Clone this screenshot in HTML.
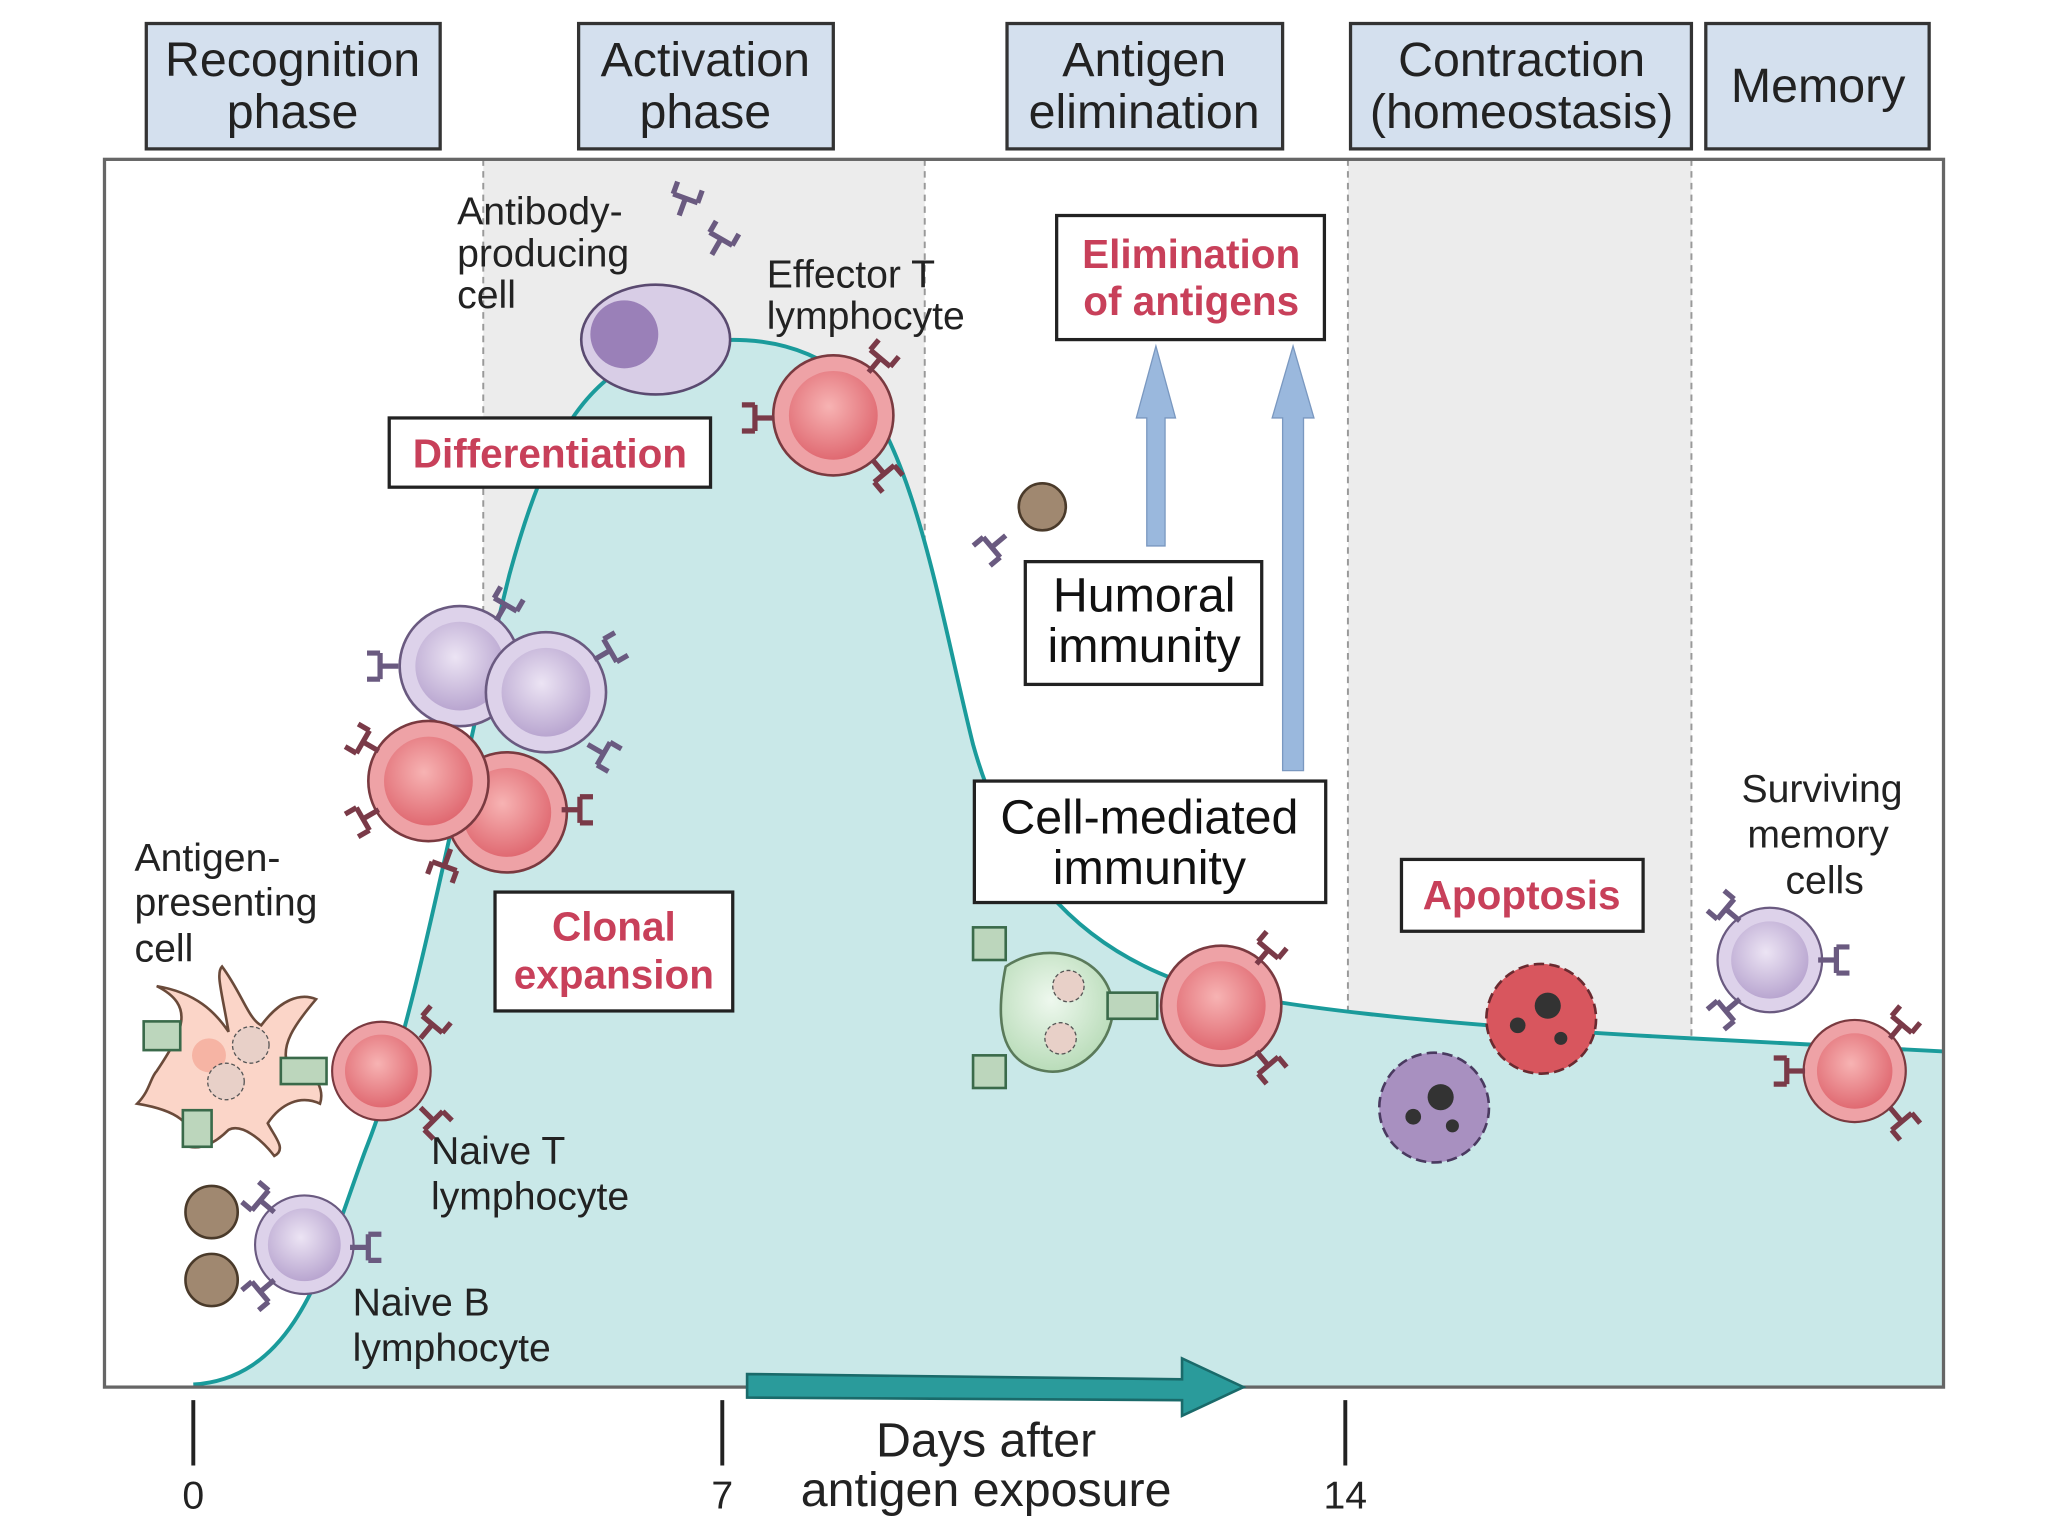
<!DOCTYPE html>
<html><head><meta charset="utf-8"><style>
html,body{margin:0;padding:0;background:#fff;}
svg{display:block;}
text{font-family:"Liberation Sans",Arial,sans-serif;}
</style></head><body>
<svg width="2048" height="1536" viewBox="0 0 1568 1176" xmlns="http://www.w3.org/2000/svg">
<defs>
<radialGradient id="rg" cx="45%" cy="40%" r="60%"><stop offset="0" stop-color="#f7b3b3"/><stop offset="1" stop-color="#e06a72"/></radialGradient>
<radialGradient id="pg" cx="45%" cy="40%" r="60%"><stop offset="0" stop-color="#ece4f4"/><stop offset="1" stop-color="#b9a6d0"/></radialGradient>
<radialGradient id="gg" cx="45%" cy="40%" r="60%"><stop offset="0" stop-color="#eef8ee"/><stop offset="1" stop-color="#b9dcb9"/></radialGradient>
<g id="red"><circle r="46" fill="#eea2a6" stroke="#7a3a40" stroke-width="2"/><circle r="34" fill="url(#rg)"/></g>
<g id="pur"><circle r="46" fill="#ddd2ea" stroke="#6a5a80" stroke-width="2"/><circle r="34" fill="url(#pg)"/></g>
<g id="ry" stroke="#7a3a48" stroke-width="4" fill="none"><path d="M0 0 L14 0 M14 -10 L14 10 M14 -10 L24 -10 M14 10 L24 10"/></g>
<g id="py" stroke="#6a5a80" stroke-width="4" fill="none"><path d="M0 0 L14 0 M14 -10 L14 10 M14 -10 L24 -10 M14 10 L24 10"/></g>
</defs>
<!-- headers -->
<g fill="#d4e0ee" stroke="#333" stroke-width="2.5">
<rect x="112" y="18" width="225" height="96"/><rect x="443" y="18" width="195" height="96"/>
<rect x="771" y="18" width="211" height="96"/><rect x="1034" y="18" width="261" height="96"/>
<rect x="1306" y="18" width="171" height="96"/></g>
<g font-size="37" fill="#222" text-anchor="middle">
<text x="224" y="58">Recognition</text><text x="224" y="98">phase</text>
<text x="540" y="58">Activation</text><text x="540" y="98">phase</text>
<text x="876" y="58">Antigen</text><text x="876" y="98">elimination</text>
<text x="1165" y="58">Contraction</text><text x="1165" y="98">(homeostasis)</text>
<text x="1392" y="78">Memory</text></g>
<!-- frame -->
<rect x="80" y="122" width="1408" height="940" fill="#fff"/>
<rect x="370" y="122" width="338" height="940" fill="#ececec"/>
<rect x="1032" y="122" width="263" height="940" fill="#ececec"/>
<g stroke="#999" stroke-dasharray="5,4" stroke-width="1.5"><line x1="370" y1="122" x2="370" y2="1062"/><line x1="708" y1="122" x2="708" y2="1062"/><line x1="1032" y1="122" x2="1032" y2="1062"/><line x1="1295" y1="122" x2="1295" y2="1062"/></g>
<path d="M148 1060 C230 1055 250 960 280 880 C320 780 350 600 390 440 C420 330 450 290 500 270 C540 258 600 250 650 290 C700 340 720 470 745 570 C770 660 820 720 900 750 C960 770 1100 785 1295 795 L1488 805 L1488 1062 L148 1062 Z" fill="#c9e8e8"/>
<path d="M148 1060 C230 1055 250 960 280 880 C320 780 350 600 390 440 C420 330 450 290 500 270 C540 258 600 250 650 290 C700 340 720 470 745 570 C770 660 820 720 900 750 C960 770 1100 785 1295 795 L1488 805" fill="none" stroke="#1a9b9b" stroke-width="3"/>
<rect x="80" y="122" width="1408" height="940" fill="none" stroke="#666" stroke-width="2.5"/>
<!-- axis -->
<g stroke="#222" stroke-width="3"><line x1="148" y1="1072" x2="148" y2="1122"/><line x1="553" y1="1072" x2="553" y2="1122"/><line x1="1030" y1="1072" x2="1030" y2="1122"/></g>
<g font-size="30" fill="#222" text-anchor="middle"><text x="148" y="1155">0</text><text x="553" y="1155">7</text><text x="1030" y="1155">14</text></g>
<path d="M572 1052 L905 1056 L905 1040 L952 1062 L905 1084 L905 1072 L572 1070 Z" fill="#2a9b9b" stroke="#1a6a6a" stroke-width="2"/>
<g font-size="37" fill="#222" text-anchor="middle"><text x="755" y="1115">Days after</text><text x="755" y="1153">antigen exposure</text></g>
<!-- blue arrows -->
<path d="M878 418 L878 320 L870 320 L885 265 L900 320 L892 320 L892 418 Z" fill="#9ab8dd" stroke="#7a98c0"/>
<path d="M982 590 L982 320 L974 320 L990 265 L1006 320 L998 320 L998 590 Z" fill="#9ab8dd" stroke="#7a98c0"/>
<!-- label boxes -->
<g fill="#fff" stroke="#222" stroke-width="2.5">
<rect x="298" y="320" width="246" height="53"/><rect x="379" y="683" width="182" height="91"/>
<rect x="809" y="165" width="205" height="95"/><rect x="785" y="430" width="181" height="94"/>
<rect x="746" y="598" width="269" height="93"/><rect x="1073" y="658" width="185" height="55"/></g>
<g font-size="31" font-weight="bold" fill="#c8405a" text-anchor="middle">
<text x="421" y="358">Differentiation</text><text x="470" y="720">Clonal</text><text x="470" y="757">expansion</text>
<text x="912" y="205">Elimination</text><text x="912" y="241">of antigens</text><text x="1165" y="696">Apoptosis</text></g>
<g font-size="37" fill="#111" text-anchor="middle"><text x="876" y="468">Humoral</text><text x="876" y="507">immunity</text>
<text x="880" y="638">Cell-mediated</text><text x="880" y="677">immunity</text></g>
<!-- small labels -->
<g font-size="30" fill="#222">
<text x="350" y="172">Antibody-</text><text x="350" y="204">producing</text><text x="350" y="236">cell</text>
<text x="587" y="220">Effector T</text><text x="587" y="252">lymphocyte</text>
<text x="103" y="667">Antigen-</text><text x="103" y="701">presenting</text><text x="103" y="736">cell</text>
<text x="330" y="891">Naive T</text><text x="330" y="926">lymphocyte</text>
<text x="270" y="1007">Naive B</text><text x="270" y="1042">lymphocyte</text>
<g text-anchor="middle"><text x="1395" y="614">Surviving</text><text x="1392" y="649">memory</text><text x="1397" y="684">cells</text></g></g>
<!-- APC -->
<path d="M120 820 C140 790 150 770 120 755 C150 760 165 775 175 790 C170 760 165 745 170 740 C185 760 190 780 200 785 C215 765 230 760 242 765 C225 785 215 800 220 815 C235 815 250 830 245 845 C230 838 215 845 205 860 C210 870 220 880 210 885 C200 872 185 860 175 865 C165 875 155 880 145 878 C150 860 135 850 105 845 C115 835 115 825 120 820 Z" fill="#fbd5c8" stroke="#6a4a3a" stroke-width="2"/>
<circle cx="160" cy="808" r="13" fill="#f6b4a4"/>
<circle cx="192" cy="800" r="14" fill="#e8d0c8" stroke="#555" stroke-dasharray="3,2"/><circle cx="173" cy="828" r="14" fill="#e8d0c8" stroke="#555" stroke-dasharray="3,2"/>
<rect x="215" y="810" width="35" height="20" fill="#bcd6bc" stroke="#3a6a4a" stroke-width="2"/><rect x="110" y="782" width="28" height="22" fill="#bcd6bc" stroke="#3a6a4a" stroke-width="2"/><rect x="140" y="850" width="22" height="28" fill="#bcd6bc" stroke="#3a6a4a" stroke-width="2"/>
<!-- Naive T & B -->
<use href="#red" x="292" y="820" transform="translate(292 820) scale(0.82) translate(-292 -820)"/>
<use href="#ry" transform="translate(322 795) rotate(-50)"/><use href="#ry" transform="translate(322 848) rotate(45)"/>
<g transform="translate(233 953) scale(0.82)"><use href="#pur"/></g>
<use href="#py" transform="translate(268 955)"/><use href="#py" transform="translate(210 928) rotate(-140)"/><use href="#py" transform="translate(210 980) rotate(140)"/>
<g fill="#a08870" stroke="#4a3a2a" stroke-width="2"><circle cx="162" cy="928" r="20"/><circle cx="162" cy="980" r="20"/></g>
<!-- clonal cluster -->
<use href="#pur" transform="translate(352 510)"/><use href="#pur" transform="translate(418 530)"/>
<use href="#red" transform="translate(388 622)"/><use href="#red" transform="translate(328 598)"/>
<use href="#py" transform="translate(380 475) rotate(-60)"/><use href="#py" transform="translate(455 505) rotate(-30)"/><use href="#py" transform="translate(305 510) rotate(180)"/><use href="#py" transform="translate(450 570) rotate(30)"/>
<use href="#ry" transform="translate(290 620) rotate(150)"/><use href="#ry" transform="translate(430 620) rotate(0)"/><use href="#ry" transform="translate(345 650) rotate(110)"/><use href="#ry" transform="translate(290 575) rotate(-150)"/>
<!-- antibody producing -->
<ellipse cx="502" cy="260" rx="57" ry="42" fill="#d8cde6" stroke="#5a4a70" stroke-width="2"/><circle cx="478" cy="256" r="26" fill="#9a80b8"/>
<use href="#py" transform="translate(520 165) rotate(-70)"/><use href="#py" transform="translate(545 195) rotate(-60)"/>
<!-- effector T -->
<use href="#red" transform="translate(638 318)"/>
<use href="#ry" transform="translate(665 285) rotate(-50)"/><use href="#ry" transform="translate(592 320) rotate(180)"/><use href="#ry" transform="translate(668 352) rotate(50)"/>
<!-- antigen & antibody -->
<circle cx="798" cy="388" r="18" fill="#a08870" stroke="#4a3a2a" stroke-width="2"/>
<use href="#py" transform="translate(770 410) rotate(140)"/>
<!-- cell mediated -->
<path d="M770 740 C800 720 840 730 850 760 C860 790 830 825 800 820 C770 815 760 790 770 740 Z" fill="url(#gg)" stroke="#5a7a5a" stroke-width="2"/>
<circle cx="818" cy="755" r="12" fill="#e8d0c8" stroke="#555" stroke-dasharray="3,2"/><circle cx="812" cy="795" r="12" fill="#e8d0c8" stroke="#555" stroke-dasharray="3,2"/>
<rect x="848" y="760" width="38" height="20" fill="#bcd6bc" stroke="#3a6a4a" stroke-width="2"/><rect x="745" y="710" width="25" height="25" fill="#bcd6bc" stroke="#3a6a4a" stroke-width="2"/><rect x="745" y="808" width="25" height="25" fill="#bcd6bc" stroke="#3a6a4a" stroke-width="2"/>
<use href="#red" transform="translate(935 770)"/>
<use href="#ry" transform="translate(962 738) rotate(-50)"/><use href="#ry" transform="translate(962 805) rotate(50)"/>
<!-- apoptosis -->
<circle cx="1180" cy="780" r="42" fill="#d8565e" stroke="#6a2a30" stroke-width="2" stroke-dasharray="8,4"/>
<circle cx="1185" cy="770" r="10" fill="#333"/><circle cx="1162" cy="785" r="6" fill="#333"/><circle cx="1195" cy="795" r="5" fill="#333"/>
<circle cx="1098" cy="848" r="42" fill="#a890c0" stroke="#4a3a60" stroke-width="2" stroke-dasharray="8,4"/>
<circle cx="1103" cy="840" r="10" fill="#333"/><circle cx="1082" cy="855" r="6" fill="#333"/><circle cx="1112" cy="862" r="5" fill="#333"/>
<!-- memory -->
<g transform="translate(1355 735) scale(0.87)"><use href="#pur"/></g>
<use href="#py" transform="translate(1392 735)"/><use href="#py" transform="translate(1332 705) rotate(-140)"/><use href="#py" transform="translate(1332 765) rotate(140)"/>
<g transform="translate(1420 820) scale(0.85)"><use href="#red"/></g>
<use href="#ry" transform="translate(1447 795) rotate(-50)"/><use href="#ry" transform="translate(1382 820) rotate(180)"/><use href="#ry" transform="translate(1447 848) rotate(50)"/>
</svg>
</body></html>
